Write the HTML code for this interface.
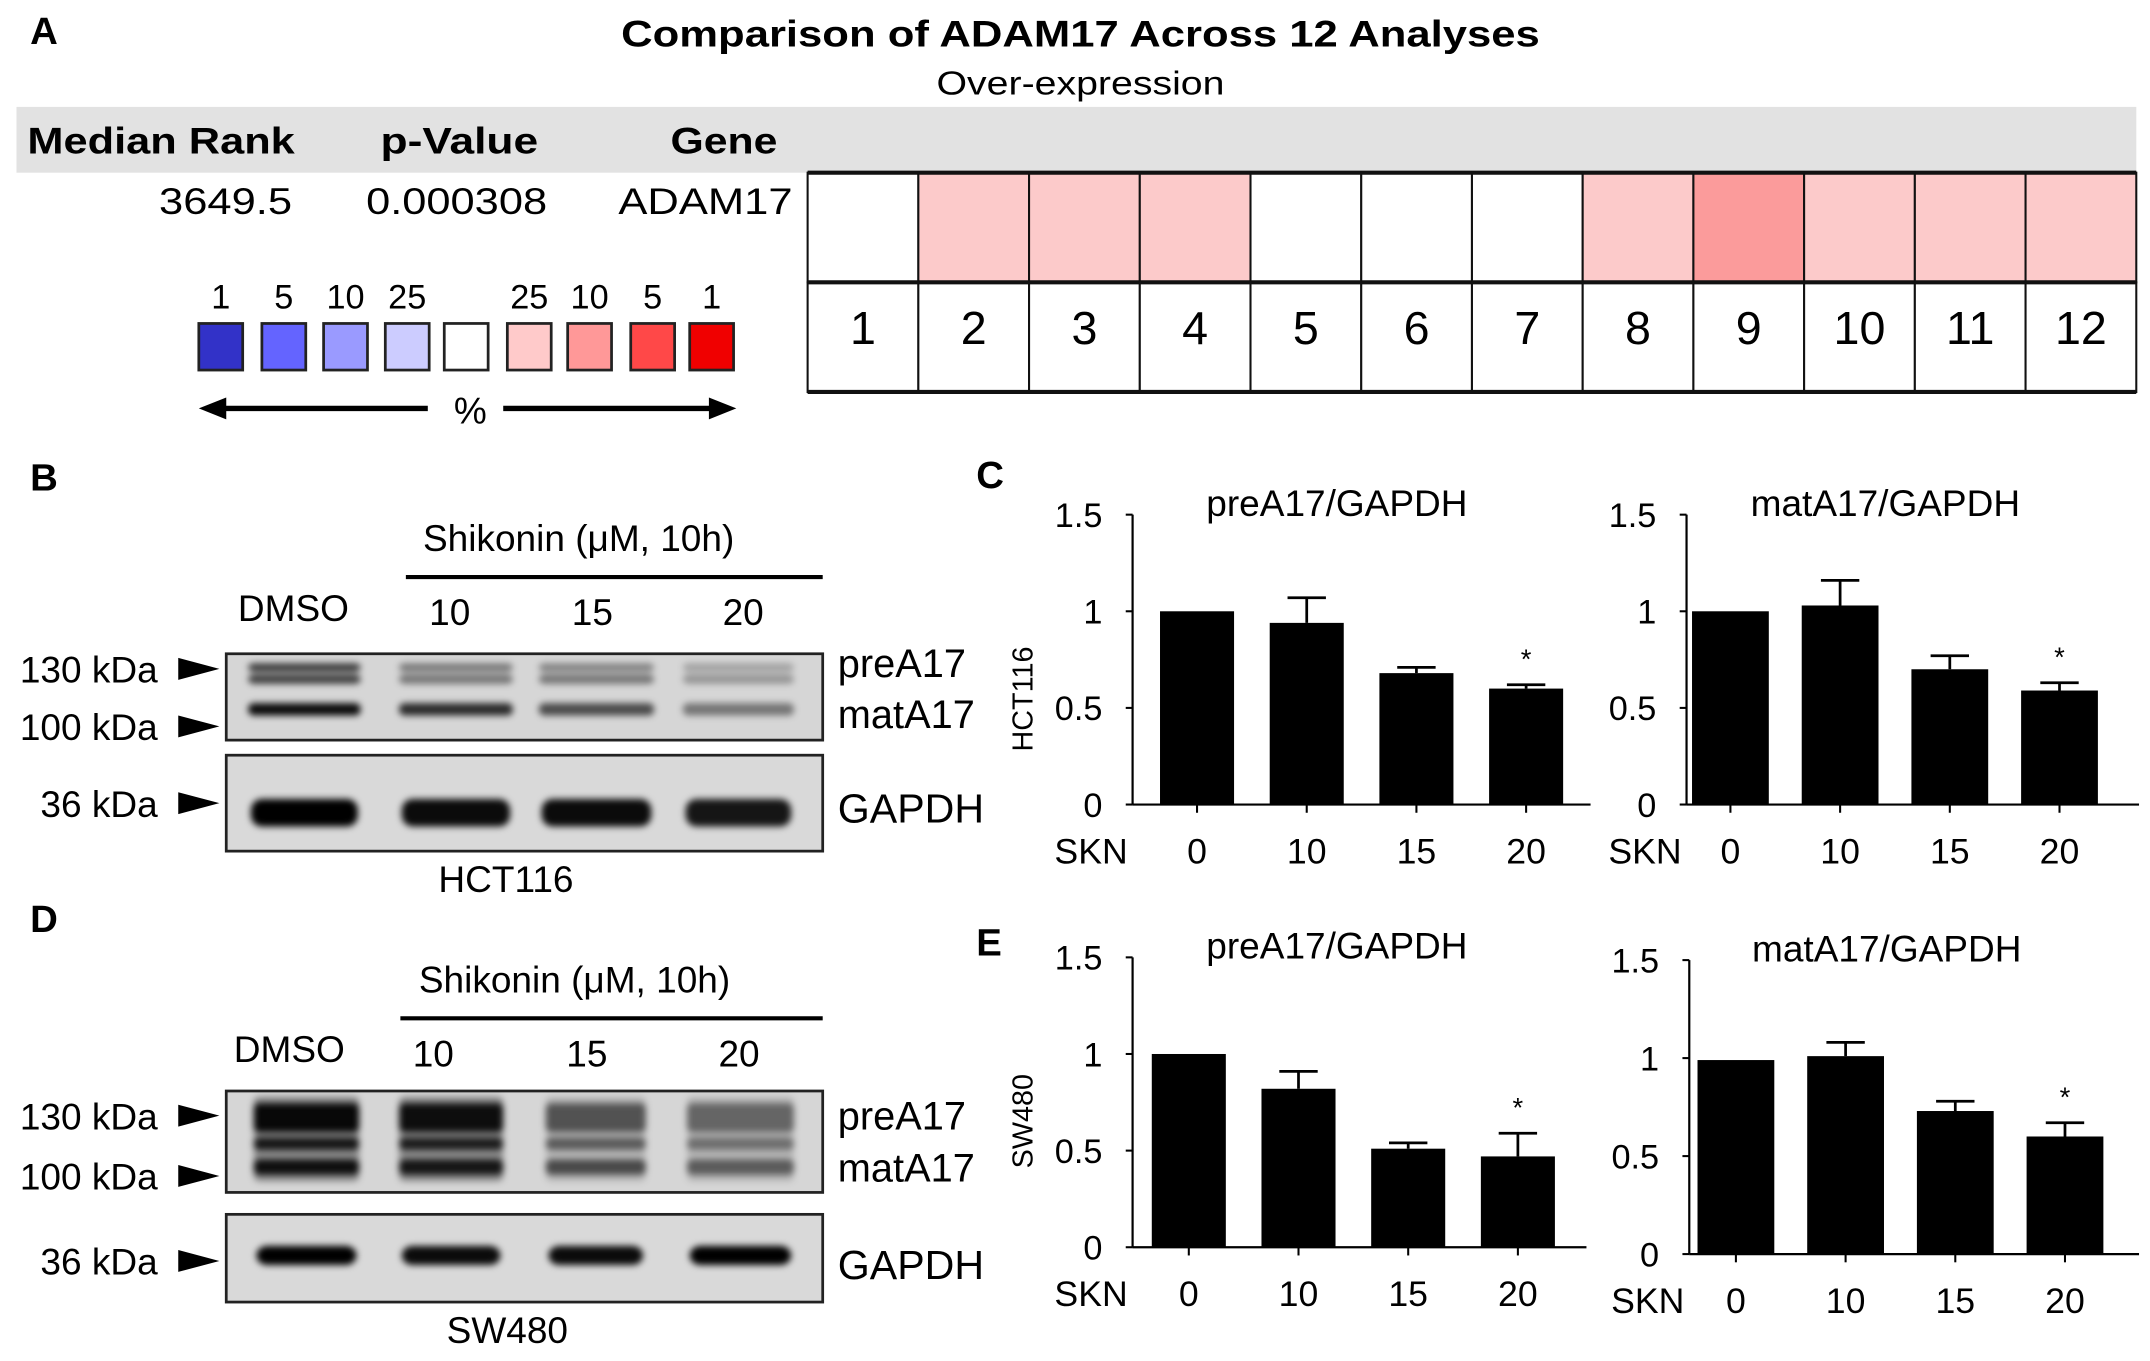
<!DOCTYPE html>
<html><head><meta charset="utf-8"><style>
html,body{margin:0;padding:0;background:#fff;}
svg{display:block;font-family:"Liberation Sans",Arial,sans-serif;}
</style></head><body>
<svg id="fig" width="2150" height="1361" viewBox="0 0 1568 993" preserveAspectRatio="none" xmlns="http://www.w3.org/2000/svg">
<defs>
<filter id="blur" x="-20%" y="-50%" width="140%" height="200%"><feGaussianBlur stdDeviation="2.6"/></filter>
</defs>

<g>
<text x="22" y="32" font-size="28" font-weight="bold">A</text>
<text x="788" y="34" font-size="27" font-weight="bold" text-anchor="middle" textLength="670" lengthAdjust="spacingAndGlyphs">Comparison of ADAM17 Across 12 Analyses</text>
<text x="788" y="69" font-size="24" text-anchor="middle" textLength="210" lengthAdjust="spacingAndGlyphs">Over-expression</text>
<rect x="12" y="78" width="1546" height="48" fill="#e2e2e2"/>
<text x="20" y="112" font-size="27" font-weight="bold" textLength="195" lengthAdjust="spacingAndGlyphs">Median Rank</text>
<text x="335" y="112" font-size="27" font-weight="bold" text-anchor="middle" textLength="115" lengthAdjust="spacingAndGlyphs">p-Value</text>
<text x="528" y="112" font-size="27" font-weight="bold" text-anchor="middle" textLength="78" lengthAdjust="spacingAndGlyphs">Gene</text>
<text x="213" y="156" font-size="27" text-anchor="end" textLength="97" lengthAdjust="spacingAndGlyphs">3649.5</text>
<text x="333" y="156" font-size="27" text-anchor="middle" textLength="132" lengthAdjust="spacingAndGlyphs">0.000308</text>
<text x="578" y="156" font-size="27" text-anchor="end" textLength="127" lengthAdjust="spacingAndGlyphs">ADAM17</text>
<g id="heat"></g>
<g id="legendg"></g>
<line x1="160" y1="298" x2="312" y2="298" stroke="#000" stroke-width="4"/>
<path d="M145,298 L165,290 L165,306 z" fill="#000"/>
<text x="343" y="309" font-size="27" text-anchor="middle">%</text>
<line x1="367" y1="298" x2="520" y2="298" stroke="#000" stroke-width="4"/>
<path d="M537,298 L517,290 L517,306 z" fill="#000"/>
</g>

<g id="blotsg"></g>
<text x="712" y="356" font-size="28" font-weight="bold">C</text>
<text x="712" y="697" font-size="28" font-weight="bold">E</text>
<text x="753" y="510" font-size="21" text-anchor="middle" transform="rotate(-90 753 510)">HCT116</text>
<text x="753" y="818" font-size="21" text-anchor="middle" transform="rotate(-90 753 818)">SW480</text>
<g id="chartsg"></g>
</svg>
<script>
var heatLabels = ["1","2","3","4","5","6","7","8","9","10","11","12"];
var heatLevels = [0,1,1,1,0,0,0,1,2,1,1,1];
var legendLabels = ["1","5","10","25","","25","10","5","1"];
var legendColors = ["#3232c8","#6464ff","#9a9aff","#ccccff","#ffffff","#ffcaca","#ff9898","#ff4848","#f00000"];

var categories = ["0","10","15","20"];
var hctPre = [1.0, 0.94, 0.68, 0.60];
var hctPreErr = [0, 0.13, 0.03, 0.02];
var hctMat = [1.0, 1.03, 0.70, 0.59];
var hctMatErr = [0, 0.13, 0.07, 0.04];
var swPre = [1.0, 0.82, 0.51, 0.47];
var swPreErr = [0, 0.09, 0.03, 0.12];
var swMat = [0.99, 1.01, 0.73, 0.60];
var swMatErr = [0, 0.07, 0.05, 0.07];
var yTicks = [0, 0.5, 1, 1.5];
var yTickLabels = ["0","0.5","1","1.5"];
var sigFlags = [false,false,false,true];

var SVGNS = "http://www.w3.org/2000/svg";
function mk(tag, attrs, parent, txt){
  var e = document.createElementNS(SVGNS, tag);
  for (var k in attrs) e.setAttribute(k, String(attrs[k]));
  if (txt !== undefined) e.textContent = txt;
  parent.appendChild(e);
  return e;
}

function drawCharts(){
  var root = document.getElementById('chartsg');
  function barChart(cfg){
    var g = mk('g',{},root);
    
    
    var yS = function(v){ return cfg.y0 - v*cfg.unit; };
    var xS = function(i){ return cfg.xc0 + i*cfg.step; };
    var ax=mk('line',{x1:cfg.ax,y1:yS(1.5),x2:cfg.ax,y2:cfg.y0,stroke:"#000","stroke-width":1.6},g);
    
    
    var xa=mk('line',{x1:cfg.ax,y1:cfg.y0,x2:cfg.xEnd,y2:cfg.y0,stroke:"#000","stroke-width":1.6},g);
    
    
    for (var k=0;k<yTicks.length;k++){
      var v=yTicks[k];
      mk('line',{x1:cfg.ax-5,y1:yS(v),x2:cfg.ax,y2:yS(v),stroke:"#000","stroke-width":1.5},g);
      var tl=mk('text',{x:cfg.ax-22,y:yS(v)+9,"font-size":25,"text-anchor":"end"},g,yTickLabels[k]);
      
      
    }
    for (var i=0;i<cfg.vals.length;i++){
      var val=cfg.vals[i], er=cfg.err[i];
      var r=mk('rect',{x:xS(i)-cfg.bw/2,y:yS(val),width:cfg.bw,height:cfg.y0-yS(val),fill:"#000"},g);
      
      
      if (er>0){
        mk('line',{x1:xS(i),y1:yS(val),x2:xS(i),y2:yS(val+er),stroke:"#000","stroke-width":2},g);
        mk('line',{x1:xS(i)-14,y1:yS(val+er),x2:xS(i)+14,y2:yS(val+er),stroke:"#000","stroke-width":2},g);
      }
      mk('line',{x1:xS(i),y1:cfg.y0,x2:xS(i),y2:cfg.y0+6,stroke:"#000","stroke-width":1.5},g);
      var xt=mk('text',{x:xS(i),y:cfg.y0+43,"font-size":26,"text-anchor":"middle"},g,categories[i]);
      
      
      if (sigFlags[i]){
        var s=mk('text',{x:xS(i),y:yS(val+er)-12,"font-size":20,"text-anchor":"middle"},g,"*");
        
        
      }
    }
    var sk=mk('text',{x:cfg.ax-57,y:cfg.y0+43,"font-size":26},g,"SKN");
    
    
    var ti=mk('text',{x:cfg.tx,y:yS(1.5)+1,"font-size":27,"text-anchor":"middle"},g,cfg.title);
    
    
  }
  barChart({name:"chart-hct116-prea17",ax:826,y0:587,unit:141,xEnd:1160,xc0:873,step:80,bw:54,vals:hctPre,err:hctPreErr,title:"preA17/GAPDH",tx:975});
  barChart({name:"chart-hct116-mata17",ax:1230,y0:587,unit:141,xEnd:1560,xc0:1262,step:80,bw:56,vals:hctMat,err:hctMatErr,title:"matA17/GAPDH",tx:1375});
  barChart({name:"chart-sw480-prea17",ax:826,y0:910,unit:141,xEnd:1157,xc0:867,step:80,bw:54,vals:swPre,err:swPreErr,title:"preA17/GAPDH",tx:975});
  barChart({name:"chart-sw480-mata17",ax:1232,y0:915,unit:143,xEnd:1560,xc0:1266,step:80,bw:56,vals:swMat,err:swMatErr,title:"matA17/GAPDH",tx:1376});
}

function drawHeat(){
  var heat = document.getElementById('heat');
  var hx0 = 589, hx1 = 1558, cw = (hx1-hx0)/heatLabels.length;
  var heatFill = ["#ffffff","#fccaca","#fb9b9b"];
  for (var i=0;i<heatLabels.length;i++){
    var lab=heatLabels[i];
    var c = mk('rect',{x:hx0+i*cw,y:126,width:cw,height:80,fill:heatFill[heatLevels[i]],stroke:"#111","stroke-width":1.5},heat);
    
    
    var b = mk('rect',{x:hx0+i*cw,y:206,width:cw,height:80,fill:"#fff",stroke:"#111","stroke-width":1.5},heat);
    
    
    var t = mk('text',{x:hx0+i*cw+cw/2,y:251,"font-size":34,"text-anchor":"middle"},heat,lab);
    
    
  }
  mk('line',{x1:hx0,y1:126,x2:hx1,y2:126,stroke:"#111","stroke-width":3},heat);
  mk('line',{x1:hx0,y1:206,x2:hx1,y2:206,stroke:"#111","stroke-width":3},heat);
  mk('line',{x1:hx0,y1:286,x2:hx1,y2:286,stroke:"#111","stroke-width":3},heat);

  var leg = document.getElementById('legendg');
  var legX = [161,207,252,297,340,386,430,476,519];
  for (var j=0;j<legendColors.length;j++){
    var sw = mk('rect',{x:legX[j]-16,y:236,width:32,height:34,fill:legendColors[j],stroke:"#222","stroke-width":2},leg);
    
    
    if (legendLabels[j]){
      var lt = mk('text',{x:legX[j],y:225,"font-size":25,"text-anchor":"middle"},leg,legendLabels[j]);
      
      
    }
  }
}

function blot(cfg){
  var root = document.getElementById('blotsg');
  var g = mk('g',{},root);
  
  
  var o = cfg.oy;
  var L = mk('text',{x:22,y:o+358,"font-size":28,"font-weight":"bold"},g,cfg.letter);
  
  
  var sh = mk('text',{x:cfg.shx,y:o+402,"font-size":27,"text-anchor":"middle"},g,"Shikonin (\u03BCM, 10h)");
  
  
  mk('line',{x1:cfg.lx0,y1:o+421,x2:600,y2:o+421,stroke:"#000","stroke-width":3},g);
  var lanesTxt=["DMSO","10","15","20"];
  for (var i=0;i<4;i++){
    var e=mk('text',{x:cfg.labX[i],y:o+(i?456:453),"font-size":27,"text-anchor":"middle"},g,lanesTxt[i]);
    
    
  }
  var b1=mk('rect',{x:165,y:cfg.b1[0],width:435,height:cfg.b1[1]-cfg.b1[0],fill:"#d6d6d6",stroke:"#222","stroke-width":2},g);
  
  
  var bg=mk('g',{filter:"url(#blur)"},g);
  for (var li=0;li<cfg.lanes.length;li++){
    var ln=cfg.lanes[li];
    for (var bi=0;bi<cfg.bands1.length;bi++){
      var bd=cfg.bands1[bi];
      mk('rect',{x:ln[0],y:bd[0],width:ln[1]-ln[0],height:bd[1]-bd[0],rx:4,fill:"#000",opacity:bd[2][li]},bg);
    }
  }
  var b2=mk('rect',{x:165,y:cfg.b2[0],width:435,height:cfg.b2[1]-cfg.b2[0],fill:"#d9d9d9",stroke:"#222","stroke-width":2},g);
  
  
  var bg2=mk('g',{filter:"url(#blur)"},g);
  for (var lj=0;lj<cfg.lanes.length;lj++){
    var l2=cfg.lanes[lj];
    mk('rect',{x:l2[0]+2,y:cfg.gband[0],width:l2[1]-l2[0]-4,height:cfg.gband[1]-cfg.gband[0],rx:8,fill:"#000",opacity:cfg.gop[lj]},bg2);
  }
  for (var mi=0;mi<cfg.markers.length;mi++){
    var m=cfg.markers[mi];
    var mt=mk('text',{x:115,y:m[1]+10,"font-size":27,"text-anchor":"end"},g,m[0]);
    
    
    mk('path',{d:"M130,"+(m[1]-8)+" L160,"+m[1]+" L130,"+(m[1]+8)+" z",fill:"#000"},g);
  }
  for (var ri=0;ri<cfg.right.length;ri++){
    var r=cfg.right[ri];
    var rt=mk('text',{x:611,y:r[1],"font-size":r[2]},g,r[0]);
    
    
  }
  var cl=mk('text',{x:cfg.cx,y:cfg.cy,"font-size":27,"text-anchor":"middle"},g,cfg.cell);
  
  
}

try { drawHeat(); } catch(err) {}
try { drawCharts(); } catch(err) {}
try {
blot({letter:"B",oy:0,shx:422,lx0:296,labX:[214,328,432,542],b1:[477,540],b2:[551,621],
  lanes:[[181,263],[291,374],[393,477],[498,579]],
  bands1:[[484,490,[0.75,0.45,0.4,0.25]],[492,499,[0.7,0.45,0.45,0.3]],[513,522,[0.95,0.8,0.65,0.45]]],
  gband:[583,603],gop:[1,0.95,0.95,0.9],
  markers:[["130 kDa",488],["100 kDa",530],["36 kDa",586]],
  right:[["preA17",494,29],["matA17",531,29],["GAPDH",600,30]],cx:369,cy:651,cell:"HCT116"});
} catch(err) {}
try {
blot({letter:"D",oy:322,shx:419,lx0:292,labX:[211,316,428,539],b1:[796,870],b2:[886,950],
  lanes:[[185,262],[291,367],[398,471],[501,579]],
  bands1:[[805,826,[0.95,0.9,0.55,0.45]],[830,839,[0.85,0.8,0.5,0.4]],[846,857,[0.9,0.85,0.6,0.5]],[800,862,[0.35,0.35,0.15,0.15]]],
  gband:[909,923],gop:[1,0.95,0.95,1],
  markers:[["130 kDa",814],["100 kDa",858],["36 kDa",920]],
  right:[["preA17",824,29],["matA17",862,29],["GAPDH",933,30]],cx:370,cy:980,cell:"SW480"});
} catch(err) {}
</script>
</body></html>
